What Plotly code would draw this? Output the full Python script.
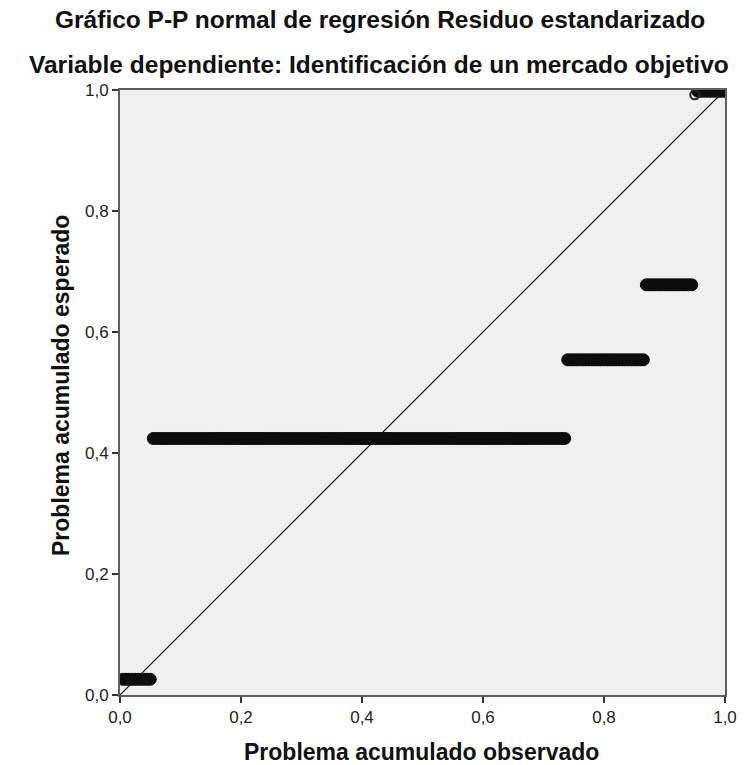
import plotly.graph_objects as go

# Observed cumulative probability (x) for each case, grouped by expected value
obs_g1 = [0.005, 0.010, 0.015, 0.020, 0.025, 0.030, 0.035, 0.040, 0.045, 0.050]
obs_g2 = [0.055, 0.060, 0.065, 0.070, 0.075, 0.080, 0.085, 0.090, 0.095, 0.100,
          0.105, 0.110, 0.115, 0.120, 0.125, 0.130, 0.135, 0.140, 0.145, 0.150,
          0.155, 0.160, 0.165, 0.170, 0.175, 0.180, 0.185, 0.190, 0.195, 0.200,
          0.205, 0.210, 0.215, 0.220, 0.225, 0.230, 0.235, 0.240, 0.245, 0.250,
          0.255, 0.260, 0.265, 0.270, 0.275, 0.280, 0.285, 0.290, 0.295, 0.300,
          0.305, 0.310, 0.315, 0.320, 0.325, 0.330, 0.335, 0.340, 0.345, 0.350,
          0.355, 0.360, 0.365, 0.370, 0.375, 0.380, 0.385, 0.390, 0.395, 0.400,
          0.405, 0.410, 0.415, 0.420, 0.425, 0.430, 0.435, 0.440, 0.445, 0.450,
          0.455, 0.460, 0.465, 0.470, 0.475, 0.480, 0.485, 0.490, 0.495, 0.500,
          0.505, 0.510, 0.515, 0.520, 0.525, 0.530, 0.535, 0.540, 0.545, 0.550,
          0.555, 0.560, 0.565, 0.570, 0.575, 0.580, 0.585, 0.590, 0.595, 0.600,
          0.605, 0.610, 0.615, 0.620, 0.625, 0.630, 0.635, 0.640, 0.645, 0.650,
          0.655, 0.660, 0.665, 0.670, 0.675, 0.680, 0.685, 0.690, 0.695, 0.700,
          0.705, 0.710, 0.715, 0.720, 0.725, 0.730, 0.735]
obs_g3 = [0.740, 0.745, 0.750, 0.755, 0.760, 0.765, 0.770, 0.775, 0.780, 0.785,
          0.790, 0.795, 0.800, 0.805, 0.810, 0.815, 0.820, 0.825, 0.830, 0.835,
          0.840, 0.845, 0.850, 0.855, 0.860, 0.865]
obs_g4 = [0.870, 0.875, 0.880, 0.885, 0.890, 0.895, 0.900, 0.905, 0.910, 0.915,
          0.920, 0.925, 0.930, 0.935, 0.940, 0.945]
obs_g5 = [0.950]
obs_g6 = [0.955, 0.960, 0.965, 0.970, 0.975, 0.980, 0.985, 0.990, 0.995, 1.000]

# Expected cumulative probability for each group
exp_values = [0.026, 0.424, 0.554, 0.678, 0.992, 0.998]

tick_vals = [0.0, 0.2, 0.4, 0.6, 0.8, 1.0]
tick_text = ["0,0", "0,2", "0,4", "0,6", "0,8", "1,0"]

title1 = "Gráfico P-P normal de regresión Residuo estandarizado"
title2 = "Variable dependiente: Identificación de un mercado objetivo"
x_title = "Problema acumulado observado"
y_title = "Problema acumulado esperado"

groups = [obs_g1, obs_g2, obs_g3, obs_g4, obs_g6]
group_y = [exp_values[0], exp_values[1], exp_values[2], exp_values[3], exp_values[5]]
xs, ys = [], []
for g, e in zip(groups, group_y):
    xs += g
    ys += [e] * len(g)

FONT = "Liberation Sans, Arial, sans-serif"

fig = go.Figure()
fig.add_trace(go.Scatter(x=[0, 1], y=[0, 1], mode="lines",
                         line=dict(color="#111111", width=1.2),
                         hoverinfo="skip", showlegend=False))
# dense, overlapping markers
fig.add_trace(go.Scatter(x=xs, y=ys, mode="markers",
                         marker=dict(symbol="circle", size=12, color="#0d0d0d",
                                     line=dict(width=1, color="#0d0d0d")),
                         showlegend=False))
# the lone open circle
fig.add_trace(go.Scatter(x=obs_g5, y=[exp_values[4]], mode="markers",
                         marker=dict(symbol="circle-open", size=9, color="#222222",
                                     line=dict(width=2, color="#222222")),
                         showlegend=False))

axis_common = dict(range=[0, 1], tickvals=tick_vals, ticktext=tick_text,
                   showgrid=False, zeroline=False, showline=True, mirror=True,
                   linecolor="#5f5f5f", linewidth=2, ticks="outside", ticklen=6,
                   tickwidth=1.5, tickcolor="#333333",
                   tickfont=dict(family=FONT, size=17, color="#222222"))

fig.update_layout(
    width=749, height=765,
    margin=dict(l=120, r=24, t=90, b=70),
    paper_bgcolor="white", plot_bgcolor="#f0f0f0",
    xaxis=axis_common, yaxis=axis_common,
)


def px_x(p):
    return (p - 120) / 605


def px_y(p):
    return (695 - p) / 605


fig.add_annotation(text="<b>" + title1 + "</b>", xref="paper", yref="paper",
                   x=px_x(380), y=px_y(19), showarrow=False,
                   xanchor="center", yanchor="middle",
                   font=dict(family=FONT, size=24.5, color="#111111"))
fig.add_annotation(text="<b>" + title2 + "</b>", xref="paper", yref="paper",
                   x=px_x(379), y=px_y(65), showarrow=False,
                   xanchor="center", yanchor="middle",
                   font=dict(family=FONT, size=24.5, color="#111111"))
fig.add_annotation(text="<b>" + x_title + "</b>", xref="paper", yref="paper",
                   x=px_x(421), y=px_y(752), showarrow=False,
                   xanchor="center", yanchor="middle",
                   font=dict(family=FONT, size=23, color="#111111"))
fig.add_annotation(text="<b>" + y_title + "</b>", xref="paper", yref="paper",
                   x=px_x(61), y=px_y(386), showarrow=False,
                   xanchor="center", yanchor="middle", textangle=-90,
                   font=dict(family=FONT, size=23, color="#111111"))

fig.write_html("out.html")
